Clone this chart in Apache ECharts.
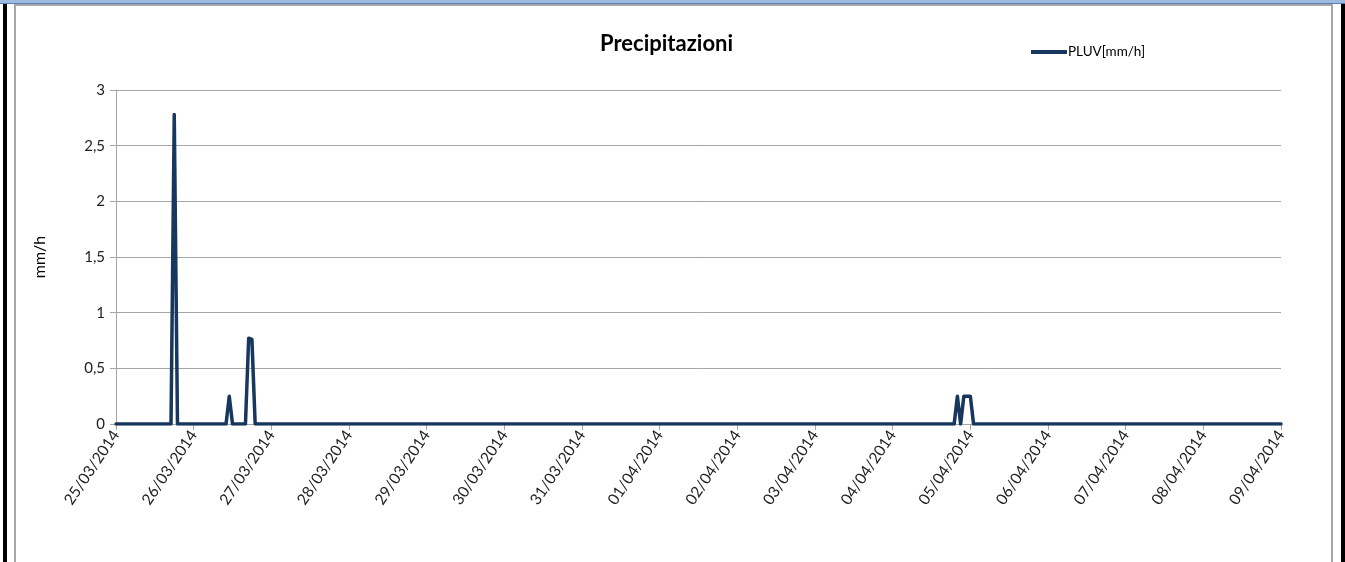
<!DOCTYPE html>
<html>
<head>
<meta charset="utf-8">
<script src="https://cdn.jsdelivr.net/npm/echarts@6/dist/echarts.min.js"></script>
<style>
  html, body { margin: 0; padding: 0; background: #fff; }
  #wrap { position: relative; width: 1345px; height: 562px; overflow: hidden; }
  #chart { position: absolute; left: 0; top: 0; width: 1345px; height: 562px; }
  .frame { position: absolute; pointer-events: none; }
</style>
</head>
<body>
<div id="wrap">
  <div id="chart"></div>
  <div class="frame" style="left:0;top:0;width:1345px;height:3px;background:#9dbbe0;border-bottom:1px solid #5b7fb0;"></div>
  <div class="frame" style="left:3px;top:4px;width:4px;height:558px;background:#000;"></div>
  <div class="frame" style="left:1341px;top:4px;width:4px;height:558px;background:#000;"></div>
  <div class="frame" style="left:14px;top:4px;width:1315px;height:560px;border:2px solid #a6a6a6;border-bottom:none;"></div>
</div>
<script>
// PLUV readings (mm/h), only the points where the line changes
const times = [
  '2014-03-25 00:00', '2014-03-25 17:00', '2014-03-25 18:00', '2014-03-25 19:00',
  '2014-03-26 10:00', '2014-03-26 11:00', '2014-03-26 12:00',
  '2014-03-26 16:00', '2014-03-26 17:00', '2014-03-26 18:00', '2014-03-26 19:00',
  '2014-04-04 19:00', '2014-04-04 20:00', '2014-04-04 21:00', '2014-04-04 22:00',
  '2014-04-04 23:00', '2014-04-05 00:00', '2014-04-05 01:00',
  '2014-04-09 00:00'
]
const pluv = [
  0, 0, 2.78, 0,
  0, 0.25, 0,
  0, 0.77, 0.76, 0,
  0, 0.25, 0, 0.25,
  0.25, 0.25, 0,
  0
]
const seriesName = 'PLUV[mm/h]'
const axisStart = '2014-03-25 00:00'
const axisEnd = '2014-04-09 00:00'

const DAY = 24 * 3600 * 1000
const font = 'Lato, "Open Sans", sans-serif'

const chart = echarts.init(document.getElementById('chart'))
chart.setOption({
  animation: false,
  title: {
    text: 'Precipitazioni',
    left: 595,
    top: 28,
    textStyle: { fontFamily: font, fontSize: 22, fontWeight: 'bold', color: '#000' }
  },
  legend: {
    data: [seriesName],
    left: 1026,
    top: 40,
    icon: 'rect',
    itemWidth: 36,
    itemHeight: 4,
    itemGap: 4,
    textStyle: { fontFamily: font, fontSize: 13.5, color: '#000', padding: [0, 0, 0, -4] }
  },
  grid: { left: 116, right: 64, top: 90, bottom: 138 },
  xAxis: {
    type: 'time',
    min: axisStart,
    max: axisEnd,
    minInterval: DAY,
    maxInterval: DAY,
    splitLine: { show: false },
    axisLine: { lineStyle: { color: '#a6a6a6', width: 1 } },
    axisTick: { show: true, length: 6, lineStyle: { color: '#a6a6a6' } },
    axisLabel: {
      rotate: 56,
      margin: 8,
      fontFamily: font,
      fontSize: 15.5,
      color: '#222',
      hideOverlap: false,
      showMinLabel: true,
      showMaxLabel: true,
      formatter: function (v) {
        const d = new Date(v)
        const p = n => (n < 10 ? '0' : '') + n
        return p(d.getDate()) + '/' + p(d.getMonth() + 1) + '/' + d.getFullYear()
      }
    }
  },
  yAxis: {
    type: 'value',
    min: 0,
    max: 3,
    interval: 0.5,
    name: 'mm/h',
    nameLocation: 'middle',
    nameRotate: 90,
    nameGap: 68,
    nameTextStyle: { fontFamily: font, fontSize: 16, color: '#000' },
    axisLine: { show: true, lineStyle: { color: '#a6a6a6', width: 1 } },
    axisTick: { show: true, length: 6, lineStyle: { color: '#a6a6a6' } },
    splitLine: { lineStyle: { color: '#a6a6a6', width: 1 } },
    axisLabel: {
      margin: 11,
      fontFamily: font,
      fontSize: 15,
      color: '#222',
      formatter: v => String(v).replace('.', ',')
    }
  },
  series: [{
    name: seriesName,
    type: 'line',
    symbol: 'none',
    data: times.map((t, i) => [t, pluv[i]]),
    lineStyle: { color: '#17375e', width: 3.5, join: 'round', cap: 'round' },
    itemStyle: { color: '#17375e' }
  }]
})
</script>
</body>
</html>
